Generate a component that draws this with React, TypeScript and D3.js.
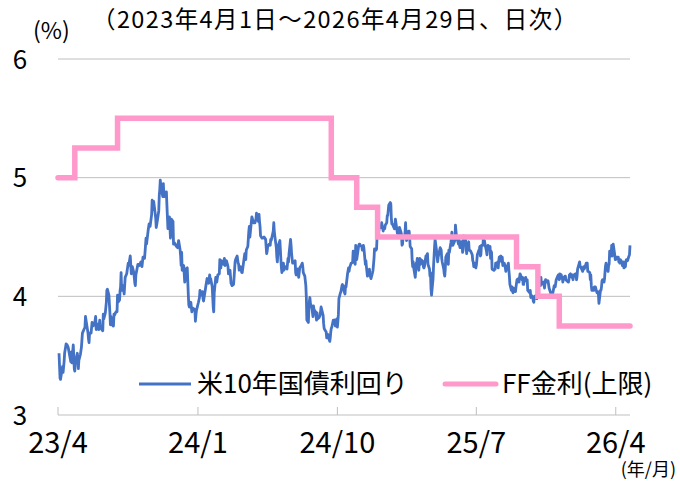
import React from "react";
import * as d3 from "d3";

// ---- Data ----
const yields2023: [string, number][] = [
  ["04-03",3.52],["04-05",3.31],["04-06",3.30],["04-10",3.41],["04-11",3.36],["04-13",3.45],["04-14",3.52],["04-17",3.60],["04-19",3.59],["04-21",3.57],["04-24",3.50],["04-26",3.45],["04-27",3.53],["04-28",3.44],
  ["05-01",3.59],["05-03",3.39],["05-04",3.37],["05-05",3.44],["05-09",3.52],["05-11",3.39],["05-12",3.46],["05-15",3.51],["05-17",3.57],["05-19",3.69],["05-22",3.72],["05-24",3.74],["05-25",3.83],["05-26",3.80],["05-30",3.69],["05-31",3.64],
  ["06-01",3.61],["06-02",3.69],["06-05",3.69],["06-07",3.78],["06-09",3.75],["06-12",3.77],["06-14",3.83],["06-15",3.72],["06-16",3.77],["06-20",3.72],["06-22",3.80],["06-23",3.74],["06-26",3.72],["06-28",3.71],["06-29",3.85],["06-30",3.81],
  ["07-03",3.86],["07-05",3.95],["07-06",4.05],["07-07",4.06],["07-10",4.01],["07-12",3.86],["07-13",3.76],["07-14",3.83],["07-18",3.75],["07-19",3.75],["07-20",3.85],["07-21",3.84],["07-24",3.87],["07-26",3.87],["07-27",4.01],["07-28",3.95],["07-31",3.97],
  ["08-01",4.05],["08-02",4.08],["08-03",4.20],["08-04",4.05],["08-07",4.09],["08-09",4.02],["08-11",4.16],["08-14",4.19],["08-15",4.22],["08-17",4.28],["08-18",4.26],["08-21",4.34],["08-23",4.19],["08-24",4.23],["08-25",4.25],["08-28",4.20],["08-30",4.11],["08-31",4.09],
  ["09-01",4.18],["09-05",4.27],["09-07",4.27],["09-08",4.26],["09-11",4.29],["09-13",4.25],["09-15",4.33],["09-18",4.32],["09-19",4.37],["09-21",4.49],["09-22",4.44],["09-25",4.55],["09-27",4.61],["09-28",4.59],["09-29",4.59],
  ["10-02",4.69],["10-03",4.81],["10-04",4.73],["10-06",4.80],["10-10",4.66],["10-11",4.58],["10-13",4.63],["10-16",4.72],["10-17",4.85],["10-18",4.90],["10-19",4.98],["10-20",4.93],["10-23",4.86],["10-24",4.84],["10-25",4.95],["10-26",4.86],["10-27",4.84],["10-30",4.88],["10-31",4.88],
  ["11-01",4.77],["11-02",4.67],["11-03",4.57],["11-06",4.67],["11-08",4.49],["11-09",4.63],["11-10",4.65],["11-13",4.63],["11-14",4.44],["11-16",4.45],["11-17",4.44],["11-20",4.42],["11-22",4.41],["11-24",4.47],["11-27",4.39],["11-28",4.34],["11-29",4.26],["11-30",4.37],
  ["12-01",4.22],["12-04",4.26],["12-06",4.12],["12-07",4.14],["12-08",4.23],["12-11",4.24],["12-13",4.02],["12-14",3.93],["12-15",3.91],["12-18",3.95],["12-20",3.87],["12-22",3.90],["12-26",3.89],["12-27",3.79],["12-28",3.84],["12-29",3.88],
];
const yields2024: [string, number][] = [
  ["01-02",3.95],["01-04",3.99],["01-05",4.05],["01-08",4.01],["01-10",4.04],["01-11",3.98],["01-12",3.96],["01-16",4.07],["01-17",4.10],["01-19",4.15],["01-22",4.11],["01-24",4.18],["01-25",4.14],["01-26",4.15],["01-29",4.08],["01-31",3.91],
  ["02-01",3.87],["02-02",4.03],["02-05",4.16],["02-07",4.12],["02-09",4.18],["02-12",4.19],["02-13",4.31],["02-15",4.24],["02-16",4.30],["02-20",4.27],["02-22",4.32],["02-23",4.26],["02-26",4.30],["02-28",4.27],["02-29",4.25],
  ["03-01",4.19],["03-04",4.22],["03-06",4.11],["03-08",4.09],["03-11",4.10],["03-12",4.16],["03-14",4.29],["03-15",4.31],["03-18",4.34],["03-20",4.28],["03-21",4.27],["03-22",4.22],["03-25",4.25],["03-27",4.20],["03-28",4.20],
  ["04-01",4.33],["04-02",4.36],["04-04",4.31],["04-05",4.39],["04-08",4.42],["04-10",4.55],["04-11",4.59],["04-12",4.50],["04-15",4.63],["04-16",4.67],["04-18",4.64],["04-19",4.62],["04-22",4.62],["04-24",4.65],["04-25",4.70],["04-26",4.67],["04-29",4.63],["04-30",4.69],
  ["05-01",4.63],["05-02",4.59],["05-03",4.51],["05-06",4.49],["05-08",4.49],["05-10",4.50],["05-13",4.48],["05-15",4.36],["05-16",4.38],["05-17",4.42],["05-20",4.44],["05-22",4.43],["05-23",4.48],["05-24",4.47],["05-28",4.55],["05-29",4.62],["05-30",4.55],["05-31",4.51],
  ["06-03",4.41],["06-04",4.33],["06-05",4.29],["06-07",4.43],["06-10",4.47],["06-12",4.31],["06-13",4.24],["06-14",4.20],["06-17",4.28],["06-18",4.22],["06-20",4.25],["06-21",4.25],["06-24",4.23],["06-26",4.32],["06-27",4.29],["06-28",4.36],
  ["07-01",4.48],["07-02",4.43],["07-03",4.36],["07-05",4.28],["07-08",4.28],["07-10",4.30],["07-11",4.20],["07-12",4.18],["07-15",4.23],["07-17",4.16],["07-19",4.24],["07-22",4.26],["07-24",4.28],["07-25",4.25],["07-26",4.20],["07-29",4.17],["07-31",4.09],
  ["08-01",3.99],["08-02",3.80],["08-05",3.78],["08-06",3.90],["08-07",3.96],["08-08",3.99],["08-09",3.94],["08-12",3.90],["08-14",3.83],["08-15",3.92],["08-16",3.89],["08-19",3.87],["08-21",3.80],["08-22",3.86],["08-23",3.81],["08-26",3.82],["08-28",3.84],["08-30",3.91],
  ["09-03",3.84],["09-04",3.77],["09-05",3.73],["09-06",3.72],["09-09",3.70],["09-10",3.65],["09-11",3.65],["09-12",3.68],["09-13",3.66],["09-16",3.62],["09-17",3.65],["09-18",3.70],["09-19",3.73],["09-20",3.74],["09-23",3.80],["09-25",3.79],["09-26",3.80],["09-27",3.75],["09-30",3.81],
  ["10-01",3.74],["10-02",3.79],["10-03",3.85],["10-04",3.98],["10-07",4.03],["10-08",4.04],["10-10",4.09],["10-11",4.10],["10-15",4.03],["10-16",4.02],["10-17",4.09],["10-18",4.08],["10-21",4.19],["10-23",4.24],["10-24",4.21],["10-25",4.24],["10-28",4.28],["10-29",4.28],["10-31",4.29],
  ["11-01",4.38],["11-04",4.28],["11-05",4.27],["11-06",4.43],["11-07",4.33],["11-08",4.31],["11-12",4.43],["11-13",4.44],["11-14",4.44],["11-15",4.43],["11-18",4.42],["11-19",4.39],["11-20",4.41],["11-21",4.43],["11-22",4.41],["11-25",4.27],["11-26",4.30],["11-27",4.25],["11-29",4.17],
  ["12-02",4.19],["12-03",4.23],["12-04",4.18],["12-06",4.15],["12-09",4.20],["12-10",4.22],["12-11",4.27],["12-12",4.32],["12-13",4.40],["12-16",4.39],["12-17",4.40],["12-18",4.50],["12-19",4.57],["12-20",4.52],["12-23",4.59],["12-24",4.59],["12-26",4.58],["12-27",4.62],["12-30",4.55],["12-31",4.58],
];
const yields2025: [string, number][] = [
  ["01-02",4.57],["01-03",4.60],["01-06",4.62],["01-07",4.68],["01-08",4.68],["01-10",4.77],["01-13",4.79],["01-14",4.78],["01-15",4.66],["01-16",4.61],["01-17",4.61],["01-21",4.57],["01-22",4.60],["01-23",4.65],["01-24",4.62],["01-27",4.53],["01-28",4.55],["01-29",4.55],["01-30",4.52],["01-31",4.58],
  ["02-03",4.54],["02-04",4.52],["02-05",4.43],["02-06",4.44],["02-07",4.49],["02-10",4.50],["02-11",4.54],["02-12",4.62],["02-13",4.52],["02-14",4.47],["02-18",4.55],["02-19",4.55],["02-20",4.50],["02-21",4.42],["02-24",4.40],["02-25",4.30],["02-26",4.25],["02-27",4.29],["02-28",4.24],
  ["03-03",4.16],["03-04",4.22],["03-05",4.28],["03-06",4.28],["03-07",4.32],["03-10",4.22],["03-11",4.28],["03-12",4.32],["03-13",4.27],["03-14",4.31],["03-17",4.30],["03-18",4.29],["03-19",4.25],["03-20",4.24],["03-21",4.25],["03-24",4.34],["03-25",4.31],["03-26",4.35],["03-27",4.36],["03-28",4.27],["03-31",4.23],
  ["04-01",4.17],["04-02",4.20],["04-03",4.06],["04-04",4.01],["04-07",4.15],["04-08",4.26],["04-09",4.34],["04-10",4.42],["04-11",4.48],["04-14",4.38],["04-15",4.33],["04-16",4.29],["04-17",4.33],["04-21",4.41],["04-22",4.40],["04-23",4.39],["04-24",4.32],["04-25",4.29],["04-28",4.23],["04-29",4.19],["04-30",4.17],
  ["05-01",4.23],["05-02",4.33],["05-05",4.36],["05-06",4.30],["05-07",4.27],["05-08",4.39],["05-09",4.37],["05-12",4.45],["05-13",4.49],["05-14",4.54],["05-15",4.43],["05-16",4.43],["05-19",4.46],["05-20",4.48],["05-21",4.60],["05-22",4.55],["05-23",4.51],["05-27",4.44],["05-28",4.48],["05-29",4.43],["05-30",4.41],
  ["06-02",4.46],["06-03",4.46],["06-04",4.37],["06-05",4.39],["06-06",4.51],["06-09",4.49],["06-10",4.47],["06-11",4.41],["06-12",4.36],["06-13",4.41],["06-16",4.46],["06-17",4.39],["06-18",4.39],["06-20",4.38],["06-23",4.35],["06-24",4.30],["06-25",4.29],["06-26",4.25],["06-27",4.28],["06-30",4.24],
  ["07-01",4.26],["07-02",4.30],["07-03",4.35],["07-07",4.40],["07-08",4.42],["07-09",4.34],["07-10",4.35],["07-11",4.43],["07-14",4.43],["07-15",4.50],["07-16",4.46],["07-17",4.47],["07-18",4.44],["07-21",4.38],["07-22",4.35],["07-23",4.40],["07-24",4.43],["07-25",4.40],["07-28",4.42],["07-29",4.32],["07-30",4.38],["07-31",4.37],
  ["08-01",4.23],["08-04",4.22],["08-05",4.22],["08-06",4.23],["08-07",4.23],["08-08",4.28],["08-11",4.27],["08-12",4.29],["08-13",4.24],["08-14",4.29],["08-15",4.33],["08-18",4.34],["08-19",4.30],["08-20",4.29],["08-21",4.33],["08-22",4.26],["08-25",4.28],["08-26",4.26],["08-27",4.24],["08-28",4.21],["08-29",4.23],
  ["09-02",4.28],["09-03",4.22],["09-04",4.17],["09-05",4.10],["09-08",4.05],["09-09",4.08],["09-10",4.05],["09-11",4.03],["09-12",4.07],["09-15",4.05],["09-16",4.04],["09-17",4.08],["09-18",4.11],["09-19",4.14],["09-22",4.15],["09-23",4.12],["09-24",4.16],["09-25",4.19],["09-26",4.18],["09-29",4.14],["09-30",4.16],
  ["10-01",4.10],["10-02",4.10],["10-03",4.13],["10-06",4.16],["10-07",4.13],["10-08",4.13],["10-09",4.14],["10-10",4.05],["10-14",4.03],["10-15",4.05],["10-16",3.99],["10-17",4.01],["10-20",3.99],["10-21",3.96],["10-22",3.95],["10-23",4.00],["10-24",4.00],["10-27",4.01],["10-28",3.98],["10-29",4.06],["10-30",4.09],["10-31",4.11],
  ["11-03",4.13],["11-04",4.09],["11-05",4.16],["11-06",4.10],["11-07",4.11],["11-10",4.12],["11-12",4.07],["11-13",4.11],["11-14",4.14],["11-17",4.13],["11-18",4.12],["11-19",4.13],["11-20",4.10],["11-21",4.07],["11-24",4.03],["11-25",4.01],["11-26",4.00],["11-28",4.02],
  ["12-01",4.09],["12-02",4.09],["12-03",4.08],["12-04",4.11],["12-05",4.14],["12-08",4.17],["12-09",4.18],["12-10",4.16],["12-11",4.14],["12-12",4.19],["12-15",4.18],["12-16",4.15],["12-17",4.16],["12-18",4.12],["12-19",4.15],["12-22",4.17],["12-23",4.17],["12-24",4.14],["12-26",4.13],["12-29",4.12],["12-30",4.14],["12-31",4.18],
];
const yields2026: [string, number][] = [
  ["01-02",4.19],["01-05",4.16],["01-06",4.18],["01-07",4.14],["01-08",4.17],["01-09",4.18],["01-12",4.19],["01-13",4.17],["01-14",4.14],["01-15",4.17],["01-16",4.23],["01-20",4.29],["01-21",4.25],["01-22",4.25],["01-23",4.24],["01-26",4.21],["01-27",4.24],["01-28",4.25],["01-29",4.23],["01-30",4.24],
  ["02-02",4.28],["02-03",4.27],["02-04",4.28],["02-05",4.21],["02-06",4.21],["02-09",4.20],["02-10",4.14],["02-11",4.18],["02-12",4.09],["02-13",4.05],["02-17",4.05],["02-18",4.08],["02-19",4.08],["02-20",4.08],["02-23",4.03],["02-24",4.04],["02-25",4.04],["02-26",4.01],["02-27",3.94],
  ["03-02",4.05],["03-03",4.05],["03-04",4.08],["03-05",4.13],["03-06",4.14],["03-09",4.12],["03-10",4.15],["03-11",4.21],["03-12",4.26],["03-13",4.28],["03-16",4.22],["03-17",4.21],["03-18",4.26],["03-19",4.27],["03-20",4.38],["03-23",4.34],["03-24",4.43],["03-25",4.34],["03-26",4.39],["03-27",4.44],["03-30",4.35],["03-31",4.31],
  ["04-01",4.31],["04-02",4.32],["04-03",4.33],["04-06",4.33],["04-07",4.29],["04-08",4.29],["04-09",4.28],["04-10",4.31],["04-13",4.29],["04-14",4.26],["04-15",4.28],["04-16",4.29],["04-17",4.24],["04-20",4.25],["04-21",4.30],["04-22",4.31],["04-23",4.31],["04-24",4.30],["04-27",4.34],["04-28",4.35],["04-29",4.43],
];

const fedDates = ["2023-04-01","2023-05-04","2023-07-27","2024-09-19","2024-11-08","2024-12-19","2025-09-18","2025-10-30","2025-12-11","2026-04-29"];
const fedUpper = [5.0, 5.25, 5.5, 5.0, 4.75, 4.5, 4.25, 4.0, 3.75, 3.75];

const xTickDates = ["2023-04-01","2024-01-01","2024-10-01","2025-07-01","2026-04-01"];
const xTickLabels = ["23/4","24/1","24/10","25/7","26/4"];
const yTicks = [3, 4, 5, 6];

const titleText = "（2023年4月1日～2026年4月29日、日次）";
const seriesNames = ["米10年国債利回り", "FF金利(上限)"];

// ---- Chart ----
const W = 680, H = 483;
const FONT = "'Noto Sans CJK JP', 'Noto Sans', sans-serif";
const parse = d3.utcParse("%Y-%m-%d");

export default function App() {
  const x = d3.scaleUtc()
    .domain([parse("2023-04-01")!, parse("2026-04-29")!])
    .range([58, 630]);
  const y = d3.scaleLinear().domain([3, 6]).range([415, 59]);

  const yieldData: { d: Date; v: number }[] = [];
  ([["2023", yields2023], ["2024", yields2024], ["2025", yields2025], ["2026", yields2026]] as [string, [string, number][]][])
    .forEach(([yr, arr]) => arr.forEach(([md, v]) => yieldData.push({ d: parse(`${yr}-${md}`)!, v })));

  const fedData = fedDates.map((s, i) => ({ d: parse(s)!, v: fedUpper[i] }));

  const yieldLine = d3.line<{ d: Date; v: number }>().x(p => x(p.d)).y(p => y(p.v));
  const fedLine = d3.line<{ d: Date; v: number }>().x(p => x(p.d)).y(p => y(p.v)).curve(d3.curveStepAfter);

  const [x0, x1] = x.range();
  const grid = "#bfbfbf";

  return (
    <svg width={W} height={H} style={{ position: "absolute", left: 0, top: 0, display: "block" }} fontFamily={FONT}>
      <rect width={W} height={H} fill="#fff" />
      <text x={92} y={28} fontSize={23.5} letterSpacing={1.4} fill="#000">{titleText}</text>
      <text x={33} y={39} fontSize={23} fill="#000">(%)</text>

      {yTicks.filter(t => t > 3).map(t => (
        <line key={t} x1={x0} x2={x1} y1={y(t)} y2={y(t)} stroke={grid} strokeWidth={1} />
      ))}
      <line x1={x0} x2={x1} y1={y(3)} y2={y(3)} stroke={grid} strokeWidth={1} />
      {xTickDates.map(s => (
        <line key={s} x1={x(parse(s)!)} x2={x(parse(s)!)} y1={y(3)} y2={y(3) - 8} stroke={grid} strokeWidth={1} />
      ))}

      {yTicks.map(t => (
        <text key={t} x={20} y={y(t) + 9.5} fontSize={26} textAnchor="middle" fill="#000">{t}</text>
      ))}
      {xTickDates.map((s, i) => (
        <text key={s} x={x(parse(s)!)} y={453} fontSize={29} textAnchor="middle" fill="#000">{xTickLabels[i]}</text>
      ))}
      <text x={676} y={476} fontSize={18} textAnchor="end" fill="#000">(年/月)</text>

      <path d={yieldLine(yieldData) ?? ""} fill="none" stroke="#4472c4" strokeWidth={2.8} strokeLinejoin="round" />
      <path d={fedLine(fedData) ?? ""} fill="none" stroke="#ff99cc" strokeWidth={5.5} strokeLinejoin="miter" strokeLinecap="round" />

      <line x1={139} x2={191} y1={384} y2={384} stroke="#4472c4" strokeWidth={2.8} />
      <text x={197} y={393} fontSize={26} fill="#000">{seriesNames[0]}</text>
      <line x1={445} x2={496} y1={384} y2={384} stroke="#ff99cc" strokeWidth={5} strokeLinecap="round" />
      <text x={502} y={393} fontSize={26} fill="#000">{seriesNames[1]}</text>
    </svg>
  );
}
